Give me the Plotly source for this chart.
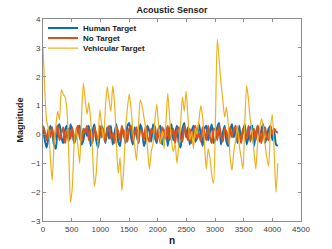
import plotly.graph_objects as go

step = 32

vehicular = [3.0, 1.5, 0.45, 0.2, -0.8, -1.6, -0.4, 0.3, 0.8, 0.5, 1.55, 1.4, 1.3, 0.9, -0.6, -2.35,
             -1.8, -0.3, 0.2, -0.4, -1.0, 0.6, 1.78, 1.2, 0.7, 1.1, 0.5, -0.6, -1.8, -1.35, -0.2, 0.85,
             0.3, -0.2, 0.9, 1.65, 1.2, 0.8, 1.68, 1.1, -0.3, -1.35, -0.8, -1.95, -1.2, 0.2, 0.9, 1.4,
             0.9, 0.1, -0.4, -0.9, 0.2, 1.2, 1.0, 0.6, 0.2, -0.5, -1.2, -0.6, -0.3, 0.5, 1.05, 0.3,
             -0.3, 0.1, -0.5, 0.4, 1.42, 0.6, -0.2, -0.6, -0.3, -1.0, -0.4, 0.4, 1.3, 0.8, 1.5, 0.6,
             -0.2, 0.1, -0.5, 0.2, 0.0, 0.5, 1.0, 0.6, -0.3, -1.2, -0.5, -0.8, -1.4, -1.7, 0.5, 3.3,
             2.6, 1.8, 1.2, 0.6, 0.95, 0.3, -0.8, -1.25, -0.6, -0.2, 0.3, -0.4, -0.8, -1.2, 0.4, 1.7,
             1.2, 0.5, 0.1, -0.6, -1.2, -0.3, 0.1, 0.55, 0.3, -0.3, -0.8, -1.1, 0.2, 0.7, -0.6, -2.0,
             -1.0]

human = [0.25, -0.2, -0.45, -0.1, 0.3, 0.1, -0.35, -0.5, 0.2, 0.35, -0.1, -0.3, 0.15, 0.3, -0.25, 0.35,
         0.1, -0.3, -0.1, 0.25, 0.3, -0.35, -0.2, 0.2, -0.05, 0.3, -0.4, 0.1, 0.35, -0.2, -0.45, 0.0,
         0.3, 0.1, -0.3, 0.25, -0.15, 0.3, -0.35, 0.05, 0.35, -0.25, -0.4, 0.2, 0.1, -0.3, 0.3, 0.4,
         -0.1, -0.35, 0.25, 0.0, -0.3, 0.35, 0.15, -0.4, -0.2, 0.3, 0.1, -0.25, 0.35, -0.1, -0.3, 0.2,
         0.3, -0.35, -0.1, 0.25, -0.4, 0.15, 0.35, -0.2, 0.05, 0.3, -0.3, -0.45, 0.2, 0.4, -0.1, 0.25,
         -0.35, 0.1, 0.3, -0.25, -0.1, 0.35, 0.0, -0.4, 0.2, 0.3, -0.2, 0.1, 0.35, -0.3, -0.15, 0.25,
         0.4, -0.35, 0.05, 0.3, -0.25, -0.4, 0.15, 0.35, -0.1, 0.2, -0.3, 0.3, -0.2, 0.1, 0.35, -0.35,
         -0.1, 0.25, 0.3, -0.4, 0.0, 0.3, -0.25, 0.15, 0.35, -0.3, -0.1, 0.2, 0.3, -0.2, 0.1, -0.35,
         -0.4]

no_target = [0.3, 0.1, -0.2, 0.2, -0.1, 0.25, -0.25, 0.15, 0.3, -0.2, 0.05, 0.25, -0.3, 0.1, 0.2, -0.15,
             0.25, -0.3, 0.1, 0.3, -0.1, -0.25, 0.2, 0.05, 0.3, -0.2, 0.15, -0.3, 0.25, 0.0, -0.2, 0.3,
             -0.1, 0.2, -0.25, 0.1, 0.3, -0.15, 0.05, -0.3, 0.25, 0.1, -0.2, 0.3, -0.1, 0.15, -0.25, 0.2,
             0.3, -0.2, 0.0, 0.25, -0.3, 0.15, 0.1, -0.2, 0.3, -0.1, -0.25, 0.2, 0.05, 0.3, -0.2, 0.1,
             -0.3, 0.25, 0.1, -0.15, 0.3, -0.2, 0.0, 0.2, -0.3, 0.15, 0.25, -0.1, -0.25, 0.3, 0.05, -0.2,
             0.2, -0.3, 0.1, 0.3, -0.15, 0.05, -0.25, 0.25, 0.1, -0.2, 0.3, -0.1, -0.3, 0.2, 0.15, -0.2,
             0.3, 0.0, -0.25, 0.2, 0.1, -0.3, 0.25, -0.1, 0.15, 0.3, -0.2, 0.05, -0.3, 0.2, 0.1, -0.15,
             0.3, -0.25, 0.05, 0.2, -0.2, 0.3, 0.1, -0.3, 0.15, 0.25, -0.1, -0.2, 0.3, 0.0, 0.2, 0.1,
             0.05]

x_ticks = [0, 500, 1000, 1500, 2000, 2500, 3000, 3500, 4000, 4500]
y_ticks = [-3, -2, -1, 0, 1, 2, 3, 4]


def xs(vals):
    return [i * step for i in range(len(vals))]


FONT = "Liberation Sans, Arial"

fig = go.Figure()
fig.add_trace(go.Scatter(x=xs(human), y=human, mode="lines", name="Human Target", legend="legend",
                         line=dict(color="#0072BD", width=2, shape="spline", smoothing=0.6)))
fig.add_trace(go.Scatter(x=xs(no_target), y=no_target, mode="lines", name="No Target", legend="legend2",
                         line=dict(color="#D95319", width=2, shape="spline", smoothing=0.6)))
fig.add_trace(go.Scatter(x=xs(vehicular), y=vehicular, mode="lines", name="Vehicular Target", legend="legend3",
                         line=dict(color="#EDB120", width=1.2, shape="spline", smoothing=0.6)))

axis_common = dict(showline=True, mirror="ticks", linecolor="#8c8c8c", linewidth=1,
                   ticks="inside", ticklen=3, tickcolor="#8c8c8c", showgrid=False, zeroline=False,
                   automargin=False,
                   tickfont=dict(family=FONT, size=8, color="#404040"))

leg_common = dict(x=0.0, xanchor="left", yanchor="middle", bgcolor="rgba(255,255,255,0)",
                  font=dict(family=FONT, size=8, color="#1a1a1a", weight="bold"),
                  itemwidth=30)

fig.update_layout(
    width=332, height=249,
    margin=dict(l=43, r=31, t=19, b=28),
    paper_bgcolor="white", plot_bgcolor="white",
    title=dict(text="Acoustic Sensor", x=0.518, xanchor="center", y=0.96, yanchor="middle",
               font=dict(family=FONT, size=9, color="#1a1a1a", weight="bold")),
    xaxis=dict(range=[0, 4500], tickvals=x_ticks,
               title=dict(text="n", font=dict(family=FONT, size=10, color="#1a1a1a", weight="bold"),
                          standoff=4),
               **axis_common),
    yaxis=dict(range=[-3, 4], tickvals=y_ticks,
               title=dict(text="Magnitude", font=dict(family=FONT, size=9, color="#1a1a1a", weight="bold"),
                          standoff=6),
               **axis_common),
    legend=dict(y=0.955, **leg_common),
    legend2=dict(y=0.906, **leg_common),
    legend3=dict(y=0.856, **leg_common),
    showlegend=True,
)

fig.write_html("out.html", config={"displayModeBar": False},
               post_script="document.body.style.margin='0';")
